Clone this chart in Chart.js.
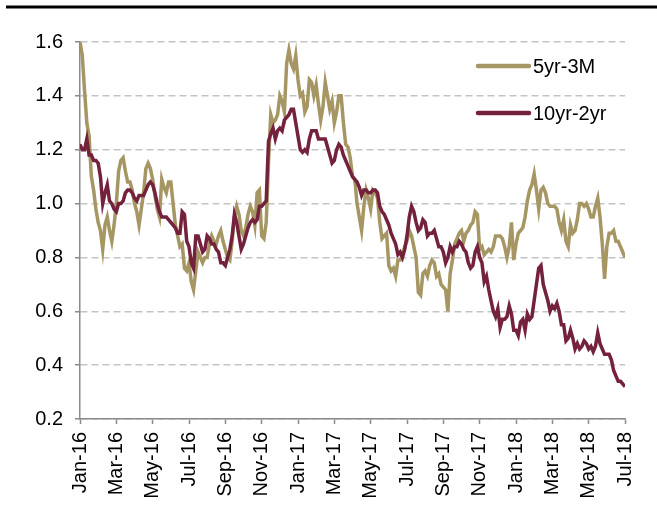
<!DOCTYPE html>
<html>
<head>
<meta charset="utf-8">
<script src="https://cdn.jsdelivr.net/npm/chart.js@4.4.1/dist/chart.umd.min.js"></script>
<style>
  html, body { margin: 0; padding: 0; background: #fff; }
  #wrap { width: 657px; height: 508px; }
</style>
</head>
<body>
<div id="wrap"><canvas id="spreadChart" width="657" height="508"></canvas></div>
<script>
// tick labels on the x axis, one every two months
const monthLabels = ['Jan-16', 'Mar-16', 'May-16', 'Jul-16', 'Sep-16', 'Nov-16',
    'Jan-17', 'Mar-17', 'May-17', 'Jul-17', 'Sep-17', 'Nov-17',
    'Jan-18', 'Mar-18', 'May-18', 'Jul-18'];

// readings twice a week-ish (one point per eighth of a month from Jan-16)
const spread5y3m = [
    1.60, 1.55, 1.42, 1.30, 1.25, 1.10, 1.05, 0.98, 0.93, 0.90,
    0.83, 0.92, 0.95, 0.90, 0.86, 0.92, 1.00, 1.12, 1.16, 1.17,
    1.12, 1.08, 1.08, 1.05, 1.00, 0.97, 0.92, 0.98, 1.04, 1.13,
    1.15, 1.13, 1.09, 1.03, 0.98, 0.95, 1.09, 1.06, 1.04, 1.08,
    1.08, 1.00, 0.92, 0.88, 0.84, 0.85, 0.76, 0.75, 0.78, 0.71,
    0.68, 0.75, 0.82, 0.80, 0.78, 0.80, 0.80, 0.85, 0.88, 0.86,
    0.85, 0.88, 0.90, 0.86, 0.83, 0.80, 0.79, 0.86, 0.95, 0.99,
    0.96, 0.90, 0.88, 0.91, 0.96, 0.99, 0.97, 0.92, 1.04, 1.05,
    0.88, 0.87, 0.93, 1.15, 1.33, 1.30, 1.31, 1.33, 1.40, 1.38,
    1.34, 1.52, 1.57, 1.52, 1.50, 1.55, 1.46, 1.40, 1.41, 1.34,
    1.36, 1.46, 1.45, 1.40, 1.44, 1.37, 1.31, 1.36, 1.45, 1.40,
    1.35, 1.38, 1.30, 1.34, 1.40, 1.40, 1.30, 1.22, 1.21, 1.17,
    1.10, 1.09, 1.00, 0.95, 0.90, 0.99, 1.05, 1.02, 0.98, 1.05,
    1.04, 1.02, 0.93, 0.87, 0.88, 0.89, 0.77, 0.75, 0.76, 0.73,
    0.79, 0.79, 0.81, 0.84, 0.86, 0.90, 0.88, 0.84, 0.80, 0.67,
    0.66, 0.74, 0.75, 0.73, 0.77, 0.79, 0.78, 0.73, 0.74, 0.70,
    0.69, 0.68, 0.60, 0.74, 0.79, 0.85, 0.87, 0.89, 0.90, 0.86,
    0.89, 0.90, 0.92, 0.93, 0.97, 0.96, 0.83, 0.84, 0.81, 0.82,
    0.83, 0.82, 0.84, 0.88, 0.88, 0.88, 0.87, 0.84, 0.80, 0.84,
    0.93, 0.79, 0.85, 0.89, 0.90, 0.91, 0.95, 1.01, 1.05, 1.07,
    1.11, 1.05, 0.98, 1.05, 1.06, 1.04, 1.00, 0.99, 0.99, 0.99,
    0.98, 0.93, 0.90, 0.94, 0.86, 0.84, 0.92, 0.89, 0.90, 0.94,
    1.00, 1.00, 0.99, 1.00, 0.98, 0.95, 0.95, 0.99, 1.02, 0.95,
    0.85, 0.72, 0.84, 0.89, 0.89, 0.90, 0.86, 0.86, 0.84, 0.82,
    0.80
];

const spread10y2y = [
    1.22, 1.20, 1.20, 1.24, 1.18, 1.18, 1.16, 1.16, 1.15, 1.10,
    1.00, 1.04, 1.07, 1.01, 1.00, 0.98, 0.97, 1.00, 1.00, 1.01,
    1.04, 1.05, 1.05, 1.04, 1.02, 1.01, 1.03, 1.03, 1.03, 1.05,
    1.07, 1.08, 1.07, 1.04, 1.00, 0.97, 0.95, 0.95, 0.95, 0.94,
    0.93, 0.92, 0.91, 0.89, 0.89, 0.97, 0.96, 0.86, 0.84, 0.78,
    0.76, 0.88, 0.88, 0.85, 0.82, 0.83, 0.88, 0.87, 0.85, 0.85,
    0.83, 0.82, 0.78, 0.78, 0.77, 0.80, 0.83, 0.88, 0.96, 0.93,
    0.88, 0.83, 0.85, 0.88, 0.91, 0.93, 0.94, 0.93, 0.94, 0.99,
    0.99, 1.00, 1.01, 1.23, 1.26, 1.28, 1.24, 1.27, 1.28, 1.27,
    1.31, 1.32, 1.33, 1.35, 1.35, 1.30, 1.25, 1.20, 1.19, 1.20,
    1.19, 1.24, 1.27, 1.27, 1.27, 1.24, 1.24, 1.24, 1.24, 1.21,
    1.18, 1.15, 1.16, 1.20, 1.22, 1.21, 1.18, 1.16, 1.14, 1.12,
    1.10, 1.09, 1.08, 1.06, 1.03, 1.05, 1.05, 1.04, 1.04, 1.05,
    1.05, 1.04, 0.99, 0.97, 0.96, 0.94, 0.92, 0.89, 0.87, 0.85,
    0.81, 0.82, 0.80, 0.83, 0.88, 0.95, 0.99, 0.97, 0.93, 0.90,
    0.91, 0.94, 0.93, 0.88, 0.89, 0.89, 0.90, 0.87, 0.84, 0.84,
    0.82, 0.78, 0.80, 0.84, 0.82, 0.84, 0.84, 0.86, 0.85, 0.83,
    0.82, 0.78, 0.76, 0.77, 0.82, 0.84, 0.80, 0.78, 0.71, 0.73,
    0.68, 0.64, 0.60, 0.58, 0.61, 0.54, 0.57, 0.57, 0.58, 0.62,
    0.59, 0.53, 0.53, 0.51, 0.56, 0.57, 0.53, 0.59, 0.57, 0.58,
    0.64, 0.70, 0.76, 0.77, 0.70, 0.67, 0.64, 0.60, 0.62, 0.61,
    0.63, 0.60, 0.55, 0.55, 0.49, 0.50, 0.53, 0.50, 0.46, 0.48,
    0.46, 0.47, 0.49, 0.48, 0.46, 0.47, 0.45, 0.47, 0.52, 0.48,
    0.46, 0.44, 0.44, 0.44, 0.42, 0.38, 0.36, 0.34, 0.34, 0.33,
    0.32
];

const stepMonths = 0.125;

const tanColor = '#a69664';
const maroonColor = '#74213c';
const fontFamily = '"Liberation Sans", Arial, sans-serif';

function toPoints(values) {
    return values.map((v, i) => ({ x: i * stepMonths, y: v }));
}

// top rule and the legend inside the plot
const decorations = {
    id: 'decorations',
    afterDraw(chart) {
        const ctx = chart.ctx;
        ctx.save();
        ctx.strokeStyle = '#000';
        ctx.lineWidth = 3;
        ctx.beginPath();
        ctx.moveTo(6, 7);
        ctx.lineTo(657, 7);
        ctx.stroke();

        const items = [
            { label: '5yr-3M', color: tanColor, y: 66 },
            { label: '10yr-2yr', color: maroonColor, y: 113 }
        ];
        ctx.lineCap = 'round';
        ctx.font = '20px ' + fontFamily;
        ctx.textBaseline = 'middle';
        ctx.fillStyle = '#000';
        items.forEach(item => {
            ctx.strokeStyle = item.color;
            ctx.lineWidth = 4.5;
            ctx.beginPath();
            ctx.moveTo(478, item.y);
            ctx.lineTo(529, item.y);
            ctx.stroke();
            ctx.fillText(item.label, 533, item.y + 1);
        });
        ctx.restore();
    }
};

new Chart(document.getElementById('spreadChart').getContext('2d'), {
    type: 'line',
    data: {
        datasets: [
            {
                label: '5yr-3M',
                data: toPoints(spread5y3m),
                borderColor: tanColor,
                borderWidth: 3.5,
                pointRadius: 0,
                tension: 0,
                order: 2
            },
            {
                label: '10yr-2yr',
                data: toPoints(spread10y2y),
                borderColor: maroonColor,
                borderWidth: 3.5,
                pointRadius: 0,
                tension: 0,
                order: 1
            }
        ]
    },
    options: {
        responsive: false,
        animation: false,
        devicePixelRatio: 1,
        layout: { padding: { left: 0, top: 42, right: 30, bottom: 0 } },
        plugins: {
            legend: { display: false },
            tooltip: { enabled: false }
        },
        scales: {
            x: {
                type: 'linear',
                min: 0,
                max: 30,
                afterFit: s => { s.height = 89; },
                grid: {
                    drawOnChartArea: false,
                    drawTicks: true,
                    tickLength: 5,
                    tickColor: '#8a8a8a',
                    tickWidth: 1.5
                },
                border: { color: '#8a8a8a', width: 1.5 },
                ticks: {
                    stepSize: 2,
                    autoSkip: false,
                    maxRotation: 90,
                    minRotation: 90,
                    padding: 8,
                    color: '#000',
                    font: { family: fontFamily, size: 20 },
                    callback: v => monthLabels[v / 2]
                }
            },
            y: {
                min: 0.2,
                max: 1.6,
                afterFit: s => { s.width = 80; },
                grid: {
                    color: '#c4c4c4',
                    lineWidth: 1.5,
                    drawTicks: true,
                    tickLength: 5,
                    tickColor: '#8a8a8a',
                    tickWidth: 1.5
                },
                border: { color: '#8a8a8a', width: 1.5, dash: [7, 4] },
                ticks: {
                    stepSize: 0.2,
                    padding: 12,
                    color: '#000',
                    font: { family: fontFamily, size: 20 },
                    callback: v => v.toFixed(1)
                }
            }
        }
    },
    plugins: [decorations]
});
</script>
</body>
</html>
